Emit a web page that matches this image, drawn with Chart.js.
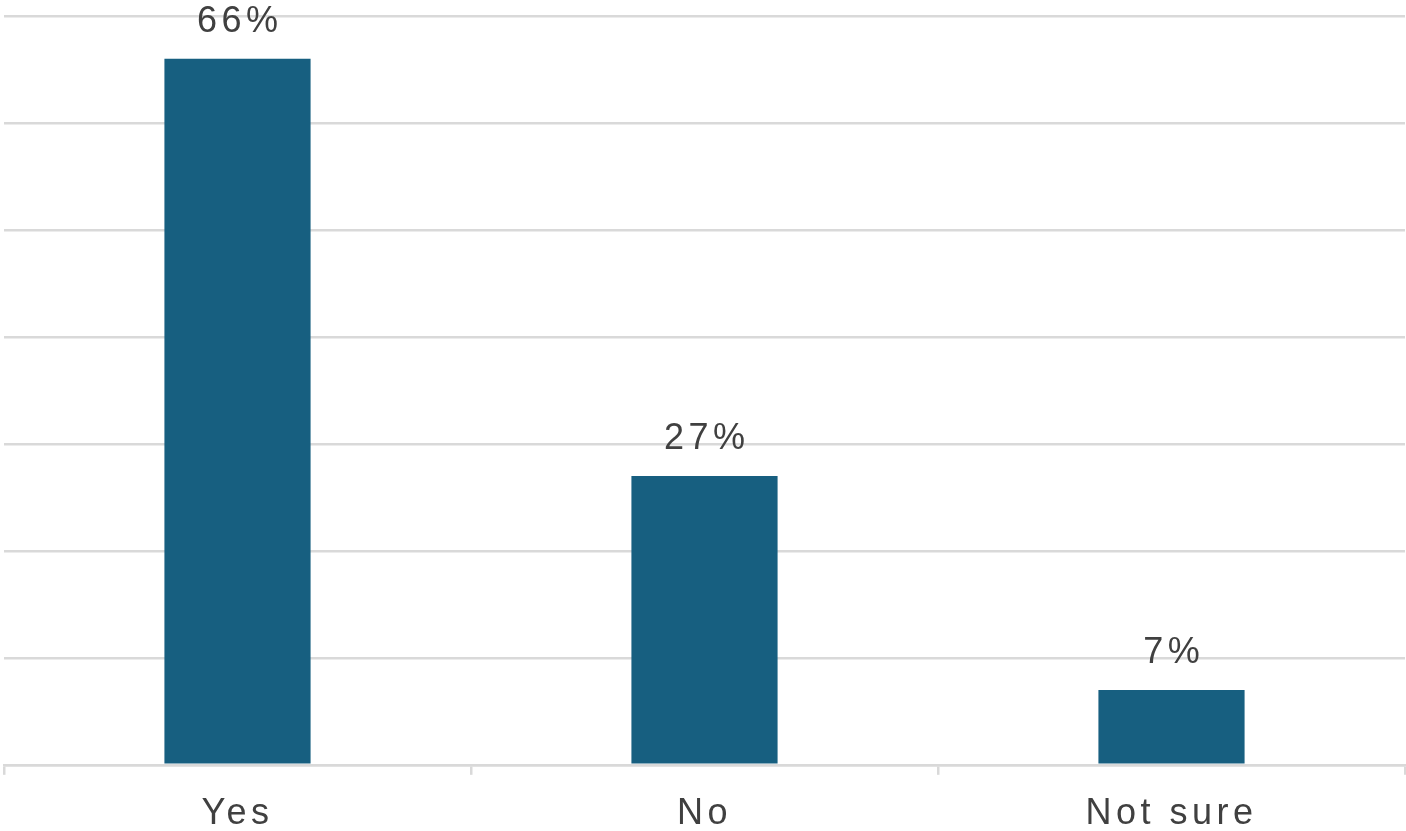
<!DOCTYPE html>
<html>
<head>
<meta charset="utf-8">
<script src="https://cdn.jsdelivr.net/npm/chart.js@4.4.0/dist/chart.umd.min.js"></script>
<style>
  html, body { margin: 0; padding: 0; background: #fff; }
  #wrap { width: 1406px; height: 831px; }
</style>
</head>
<body>
<div id="wrap"><canvas id="myChart"></canvas></div>
<script>
var categories = ["Yes", "No", "Not sure"];
var values = [66, 27, 7];
var valueLabels = ["66%", "27%", "7%"];
var yTicks = [0, 10, 20, 30, 40, 50, 60, 70];

var barColor = "#175f80";
var textColor = "#404040";
var gridColor = "#d9d9d9";
var letterGap = 4.5;

// spaced-out text like the original
var spacing = {
    id: "spacing",
    beforeDraw: function(chart){
        chart.ctx.letterSpacing = letterGap + "px";
    }
};

// value labels above each bar
var barLabels = {
    id: "barLabels",
    afterDatasetsDraw: function(chart){
        var ctx = chart.ctx;
        var meta = chart.getDatasetMeta(0);
        ctx.save();
        ctx.font = "36px 'Liberation Sans', Arial, sans-serif";
        ctx.letterSpacing = letterGap + "px";
        ctx.fillStyle = textColor;
        ctx.textAlign = "center";
        ctx.textBaseline = "alphabetic";
        meta.data.forEach(function(bar, i){
            ctx.fillText(valueLabels[i], bar.x + letterGap / 2, bar.y - 27);
        });
        ctx.restore();
    }
};

var ctx = document.getElementById("myChart").getContext("2d");

var myChart = new Chart(ctx, {
    type: "bar",
    data: {
        labels: categories,
        datasets: [{
            data: values,
            backgroundColor: barColor,
            borderWidth: 0,
            categoryPercentage: 1,
            barPercentage: 0.313
        }]
    },
    options: {
        responsive: true,
        maintainAspectRatio: false,
        animation: false,
        layout: { padding: { left: 4, right: 1, top: 16, bottom: -23 } },
        plugins: {
            legend: { display: false },
            tooltip: { enabled: false }
        },
        scales: {
            x: {
                grid: {
                    offset: true,
                    drawOnChartArea: false,
                    drawTicks: true,
                    tickLength: 10,
                    color: gridColor,
                    lineWidth: 2.5
                },
                border: { display: true, color: gridColor, width: 2.5 },
                ticks: {
                    color: textColor,
                    padding: 18,
                    font: { family: "'Liberation Sans', Arial, sans-serif", size: 36 }
                }
            },
            y: {
                min: yTicks[0],
                max: yTicks[yTicks.length - 1],
                afterBuildTicks: function(axis){
                    axis.ticks = yTicks.map(function(v){ return { value: v }; });
                },
                ticks: { display: false },
                grid: {
                    drawTicks: false,
                    color: gridColor,
                    lineWidth: 2.5
                },
                border: { display: false }
            }
        }
    },
    plugins: [spacing, barLabels]
});
</script>
</body>
</html>
